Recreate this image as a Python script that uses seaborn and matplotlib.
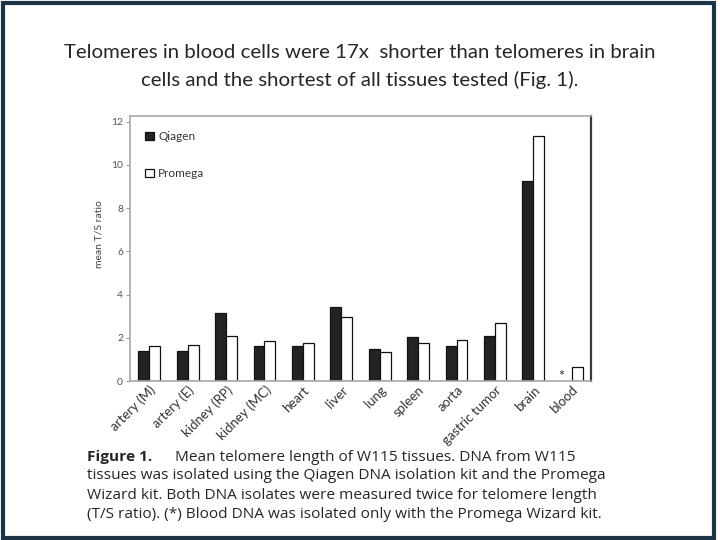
import numpy as np
import pandas as pd
import matplotlib
matplotlib.use("Agg")
import matplotlib.pyplot as plt
import seaborn as sns
from matplotlib.patches import Rectangle

sns.set_style("white")
plt.rcParams["font.family"] = ["Lato", "DejaVu Sans"]

# values (mean T/S ratio)
tissues = ["artery (M)", "artery (E)", "kidney (RP)", "kidney (MC)", "heart", "liver",
           "lung", "spleen", "aorta", "gastric tumor", "brain", "blood"]
qiagen = [1.41, 1.40, 3.15, 1.64, 1.63, 3.41, 1.49, 2.05, 1.64, 2.09, 9.23, np.nan]
promega = [1.64, 1.66, 2.07, 1.84, 1.77, 2.95, 1.35, 1.75, 1.89, 2.66, 11.31, 0.63]
kits = ["Qiagen", "Promega"]
y_ticks = [0, 2, 4, 6, 8, 10, 12]

df = pd.DataFrame({
    "tissue": tissues * 2,
    "kit": ["Qiagen"] * len(tissues) + ["Promega"] * len(tissues),
    "ratio": qiagen + promega,
})

fig = plt.figure(figsize=(7.2, 5.4), dpi=100)
ax = fig.add_axes([0.1806, 0.2944, 0.6402, 0.4906])

sns.barplot(data=df, x="tissue", y="ratio", hue="kit", hue_order=kits, order=tissues,
            palette={"Qiagen": "#232323", "Promega": "white"}, edgecolor="#111111",
            linewidth=0.9, width=0.57, errorbar=None, ax=ax)

ax.set_xlim(-0.5, len(tissues) - 0.5)
ax.set_ylim(0, 12.25)
ax.set_yticks(y_ticks)
ax.set_xlabel("")
ax.set_ylabel("mean T/S ratio", fontsize=7.5, color="#444444", labelpad=5)
ax.yaxis.set_label_coords(-0.058, 0.555)
ax.tick_params(axis="y", labelsize=7.5, labelcolor="#555555", length=3, color="#999999",
               direction="out", left=True, pad=2)
ax.tick_params(axis="x", length=0, pad=2)
ax.set_xticks(range(len(tissues)))
ax.set_xticklabels(tissues, rotation=45, ha="right", rotation_mode="anchor",
                   fontsize=9.5, color="#333333")

for side in ["left", "top", "bottom"]:
    ax.spines[side].set_color("#a8a8a8")
    ax.spines[side].set_linewidth(1.2)
ax.spines["right"].set_color("#3a3a3a")
ax.spines["right"].set_linewidth(1.6)

# blood was only isolated with the Promega kit
ax.text(len(tissues) - 1 - 0.28, 0.2, "*", ha="center", va="center", fontsize=10.5, color="#333333")

handles, labels = ax.get_legend_handles_labels()
ax.legend(handles, labels, loc="upper left", frameon=False, fontsize=8.5,
          labelspacing=2.2, handlelength=0.7, handleheight=0.7, handletextpad=0.4,
          borderaxespad=0.9, labelcolor="#333333")

fig.text(0.5, 0.902, "Telomeres in blood cells were 17x  shorter than telomeres in brain",
         ha="center", va="center", fontsize=14.7)
fig.text(0.5, 0.852, "cells and the shortest of all tissues tested (Fig. 1).",
         ha="center", va="center", fontsize=14.7)

cap_lines = [
    "tissues was isolated using the Qiagen DNA isolation kit and the Promega",
    "Wizard kit. Both DNA isolates were measured twice for telomere length",
    "(T/S ratio). (*) Blood DNA was isolated only with the Promega Wizard kit.",
]
cap_font = ["Open Sans", "DejaVu Sans"]
fig.text(0.121, 0.153, "Figure 1.", fontsize=11.1, fontweight="bold", va="center",
         family=cap_font)
fig.text(0.243, 0.153, "Mean telomere length of W115 tissues. DNA from W115",
         fontsize=11.1, va="center", family=cap_font)
for i, line in enumerate(cap_lines):
    fig.text(0.121, 0.119 - i * 0.036, line, fontsize=11.1, va="center", family=cap_font)

fig.patches.append(Rectangle((0.004, 0.004), 0.988, 0.991, transform=fig.transFigure,
                             fill=False, edgecolor="#1d3446", linewidth=3))

fig.savefig("out.png", dpi=100)
